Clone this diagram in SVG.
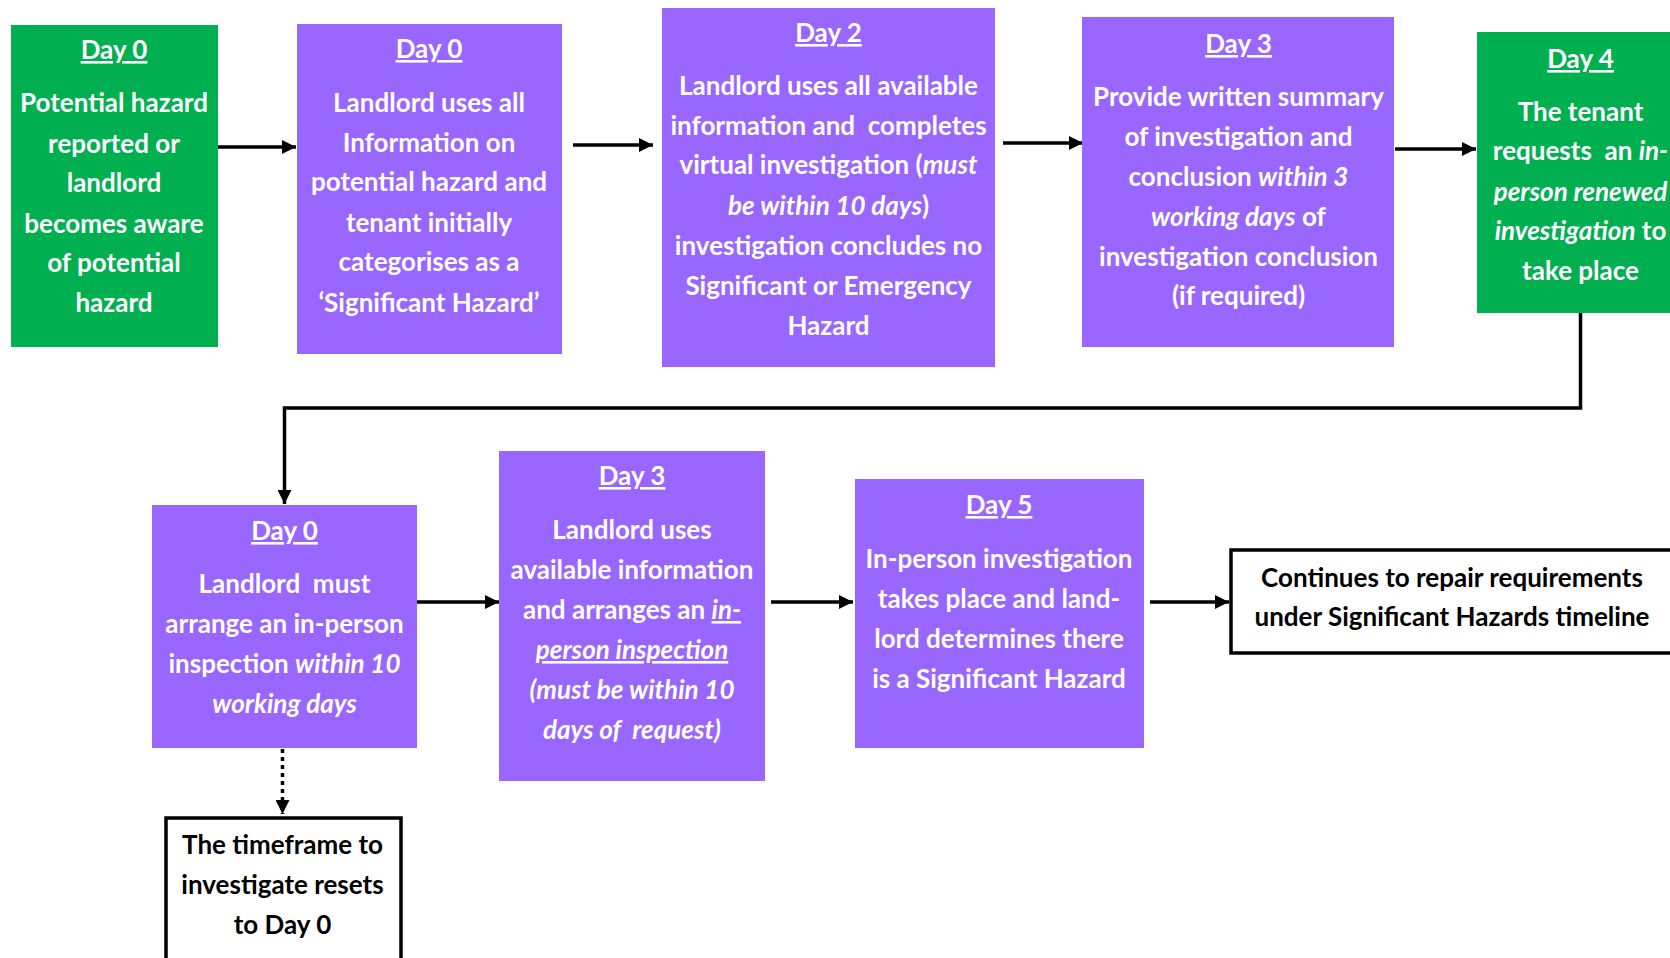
<svg xmlns="http://www.w3.org/2000/svg" width="1670" height="958" viewBox="0 0 1670 958">
<defs>
<marker id="ah" viewBox="0 0 10 10" refX="10" refY="5" markerWidth="4" markerHeight="4" orient="auto" markerUnits="strokeWidth">
<path d="M0,0 L10,5 L0,10 z" fill="#000"/>
</marker>
<style>
.g{fill:#00B050}
.p{fill:#9966FF}
.w{fill:#fff;stroke:#000;stroke-width:3.5}
text{font-family:Lato,"Liberation Sans",sans-serif;font-weight:bold;font-size:26px;text-anchor:middle}
.t{fill:#fff}
.k{fill:#000}
.u{text-decoration:underline}
.i{font-style:italic}
.c{fill:none;stroke:#000;stroke-width:3.5}
.d{fill:none;stroke:#000;stroke-width:3.5;stroke-dasharray:4 4}
</style>
</defs>
<rect width="1670" height="958" fill="#fff"/>
<g id="connectors">
<path class="c" d="M218,147 L296,147" marker-end="url(#ah)"/>
<path class="c" d="M573,145 L653,145" marker-end="url(#ah)"/>
<path class="c" d="M1003,143 L1083,143" marker-end="url(#ah)"/>
<path class="c" d="M1395,149 L1476,149" marker-end="url(#ah)"/>
<path class="c" d="M1580.5,313 L1580.5,408 L284.5,408 L284.5,504" marker-end="url(#ah)"/>
<path class="c" d="M417,602 L499,602" marker-end="url(#ah)"/>
<path class="c" d="M771,602 L853,602" marker-end="url(#ah)"/>
<path class="c" d="M1150,602 L1229,602" marker-end="url(#ah)"/>
<path class="d" d="M282.5,749 L282.5,814" marker-end="url(#ah)"/>
</g>
<g id="n1">
<rect class="g" x="11" y="25" width="207" height="322"/>
<text class="t u" x="114" y="59">Day 0</text>
<text class="t" x="114" y="112">Potential hazard</text>
<text class="t" x="114" y="153">reported or</text>
<text class="t" x="114" y="192">landlord</text>
<text class="t" x="114" y="233">becomes aware</text>
<text class="t" x="114" y="272">of potential</text>
<text class="t" x="114" y="312">hazard</text>
</g>
<g id="n2">
<rect class="p" x="297" y="24" width="265" height="330"/>
<text class="t u" x="429" y="58">Day 0</text>
<text class="t" x="429" y="112">Landlord uses all</text>
<text class="t" x="429" y="152">Information on</text>
<text class="t" x="429" y="191">potential hazard and</text>
<text class="t" x="429" y="232">tenant initially</text>
<text class="t" x="429" y="271">categorises as a</text>
<text class="t" x="429" y="312">‘Significant Hazard’</text>
</g>
<g id="n3">
<rect class="p" x="662" y="8" width="333" height="359"/>
<text class="t u" x="828.5" y="42">Day 2</text>
<text class="t" x="828.5" y="95">Landlord uses all available</text>
<text class="t" x="828.5" y="135" xml:space="preserve">information and  completes</text>
<text class="t" x="828.5" y="174">virtual investigation (<tspan class="i">must</tspan></text>
<text class="t" x="828.5" y="215"><tspan class="i">be within 10 days</tspan>)</text>
<text class="t" x="828.5" y="255">investigation concludes no</text>
<text class="t" x="828.5" y="295">Significant or Emergency</text>
<text class="t" x="828.5" y="335">Hazard</text>
</g>
<g id="n4">
<rect class="p" x="1082" y="17" width="312" height="330"/>
<text class="t u" x="1238.5" y="53">Day 3</text>
<text class="t" x="1238.5" y="106">Provide written summary</text>
<text class="t" x="1238.5" y="146">of investigation and</text>
<text class="t" x="1238.5" y="186">conclusion <tspan class="i">within 3</tspan></text>
<text class="t" x="1238.5" y="226"><tspan class="i">working days</tspan> of</text>
<text class="t" x="1238.5" y="266">investigation conclusion</text>
<text class="t" x="1238.5" y="305">(if required)</text>
</g>
<g id="n5">
<rect class="g" x="1477" y="32" width="200" height="281"/>
<text class="t u" x="1580.5" y="68">Day 4</text>
<text class="t" x="1580.5" y="121">The tenant</text>
<text class="t" x="1580.5" y="160" xml:space="preserve">requests  an <tspan class="i">in-</tspan></text>
<text class="t i" x="1580.5" y="201">person renewed</text>
<text class="t" x="1580.5" y="240"><tspan class="i">investigation</tspan> to</text>
<text class="t" x="1580.5" y="280">take place</text>
</g>
<g id="n6">
<rect class="p" x="152" y="505" width="265" height="243"/>
<text class="t u" x="284.5" y="540">Day 0</text>
<text class="t" x="284.5" y="593" xml:space="preserve">Landlord  must</text>
<text class="t" x="284.5" y="633">arrange an in-person</text>
<text class="t" x="284.5" y="673">inspection <tspan class="i">within 10</tspan></text>
<text class="t i" x="284.5" y="713">working days</text>
</g>
<g id="n7">
<rect class="p" x="499" y="451" width="266" height="330"/>
<text class="t u" x="632" y="485">Day 3</text>
<text class="t" x="632" y="539">Landlord uses</text>
<text class="t" x="632" y="579">available information</text>
<text class="t" x="632" y="619">and arranges an <tspan class="i u">in-</tspan></text>
<text class="t i u" x="632" y="659">person inspection</text>
<text class="t i" x="632" y="699">(must be within 10</text>
<text class="t i" x="632" y="739" xml:space="preserve">days of  request)</text>
</g>
<g id="n8">
<rect class="p" x="855" y="479" width="289" height="269"/>
<text class="t u" x="999" y="514">Day 5</text>
<text class="t" x="999" y="568">In-person investigation</text>
<text class="t" x="999" y="608">takes place and land-</text>
<text class="t" x="999" y="648">lord determines there</text>
<text class="t" x="999" y="688">is a Significant Hazard</text>
</g>
<g id="n9">
<rect class="w" x="1231" y="550" width="460" height="103"/>
<text class="k" x="1452" y="587">Continues to repair requirements</text>
<text class="k" x="1452" y="626">under Significant Hazards timeline</text>
</g>
<g id="n10">
<rect class="w" x="166" y="818" width="235" height="160"/>
<text class="k" x="282.5" y="854">The timeframe to</text>
<text class="k" x="282.5" y="894">investigate resets</text>
<text class="k" x="282.5" y="934">to Day 0</text>
</g>
</svg>
